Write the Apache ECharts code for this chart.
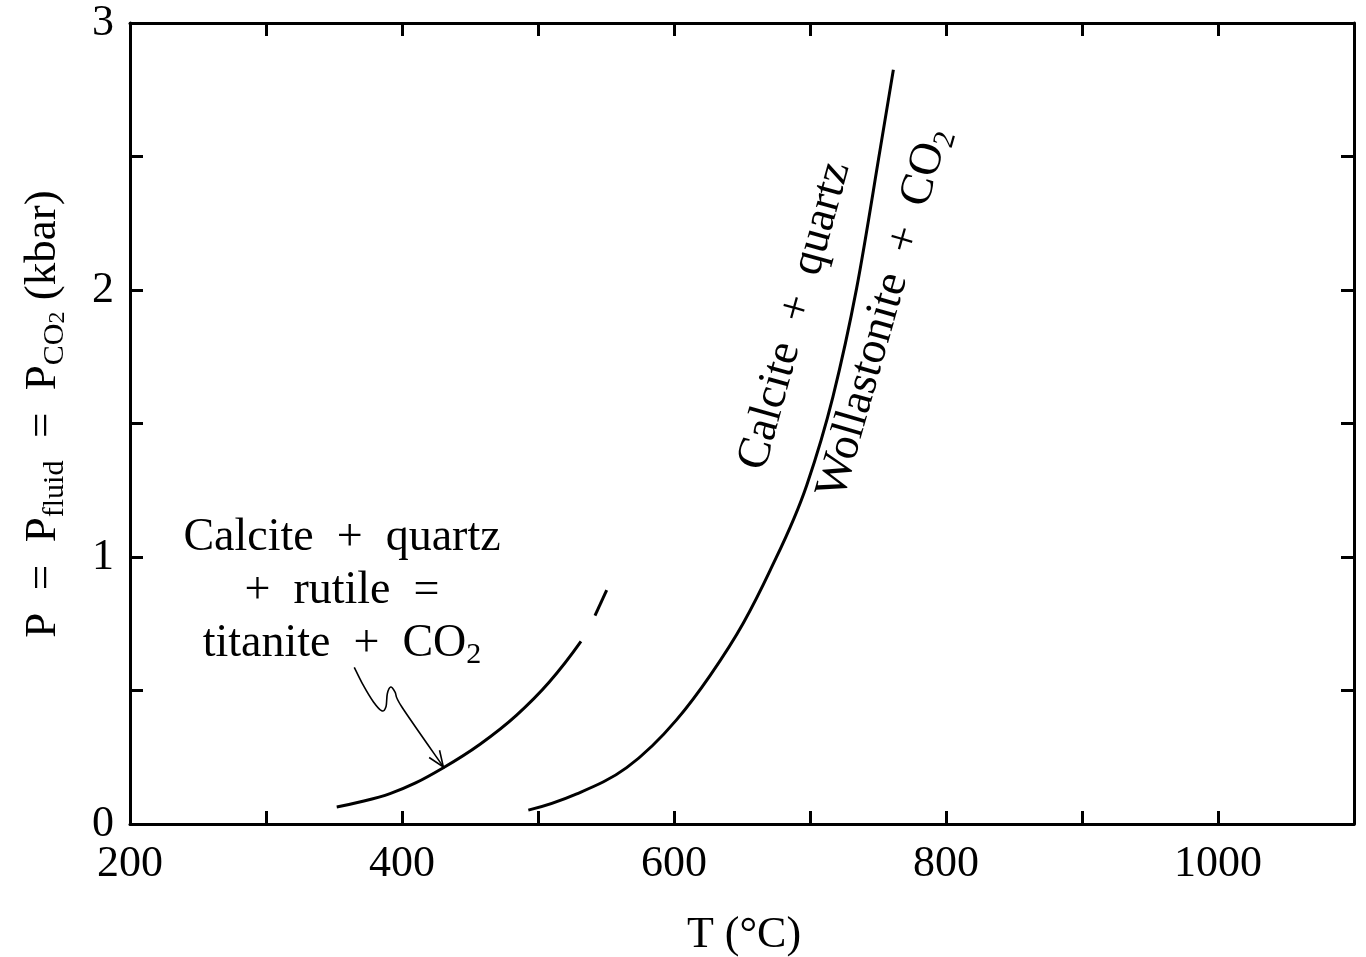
<!DOCTYPE html>
<html>
<head>
<meta charset="utf-8">
<script src="https://cdn.jsdelivr.net/npm/echarts@6/dist/echarts.min.js"></script>
<style>
  html, body { margin: 0; padding: 0; background: #fff; }
  #chart { width: 1366px; height: 957px; }
</style>
</head>
<body>
<div id="chart"></div>
<script>
// Calcite + quartz = wollastonite + CO2 : temperature (°C) and pressure (kbar)
const wollT = [492.9, 528.5, 565.2, 602.0, 626.5, 651.0, 670.6, 697.6, 716.9, 734.3, 751.5, 761.3];
const wollP = [0.052, 0.113, 0.211, 0.391, 0.556, 0.753, 0.949, 1.269, 1.601, 2.007, 2.524, 2.825];

// Calcite + quartz + rutile = titanite + CO2 (main branch and short upper piece)
const titT = [352.0, 372.0, 391.2, 410.0, 430.1, 457.4, 484.3, 508.0, 531.6];
const titP = [0.064, 0.086, 0.114, 0.154, 0.210, 0.299, 0.408, 0.530, 0.684];
const titUpperT = [541.9, 550.5];
const titUpperP = [0.780, 0.876];

// Squiggly leader from the titanite label down to its curve (ends in an arrow)
const leaderT = [364.9, 371.6, 378.9, 385.1, 388.2, 389.2, 391.7, 394.9, 399.8, 430.4];
const leaderP = [0.587, 0.519, 0.458, 0.424, 0.439, 0.488, 0.513, 0.494, 0.439, 0.214];

// Labelled tick values
const xTickLabels = [200, 400, 600, 800, 1000];
const yTickLabels = [0, 1, 2, 3];

const SERIF = "'Liberation Serif', 'Times New Roman', serif";
const EN = '\u2002';
const zip = (a, b) => a.map((v, i) => [v, b[i]]);

// rich-text styles: main text, subscript, second-level subscript
const titleRich = {
  m:  { fontSize: 45, fontFamily: SERIF, color: '#000', lineHeight: 54 },
  s:  { fontSize: 30, fontFamily: SERIF, color: '#000', lineHeight: 28, verticalAlign: 'bottom' },
  ss: { fontSize: 24, fontFamily: SERIF, color: '#000', lineHeight: 10, verticalAlign: 'bottom' }
};
const labelRich = {
  m:  { fontSize: 46, fontFamily: SERIF, color: '#000', lineHeight: 53 },
  s:  { fontSize: 30, fontFamily: SERIF, color: '#000', lineHeight: 28, verticalAlign: 'bottom' }
};

const axisLineStyle = { color: '#000', width: 3 };
const tickStyle = { color: '#000', width: 3 };

// Smooth path for a curve whose pixel x increases along the points:
// cubic Hermite in x with three-point tangents, written as Bézier segments.
function hermitePath(pts) {
  const n = pts.length;
  let d = 'M' + pts[0][0] + ' ' + pts[0][1];
  if (n < 3) {
    for (let i = 1; i < n; i++) d += ' L' + pts[i][0] + ' ' + pts[i][1];
    return d;
  }
  const h = [], s = [], m = [];
  for (let i = 0; i < n - 1; i++) {
    h.push(pts[i + 1][0] - pts[i][0]);
    s.push((pts[i + 1][1] - pts[i][1]) / h[i]);
  }
  m[0] = ((2 * h[0] + h[1]) * s[0] - h[0] * s[1]) / (h[0] + h[1]);
  for (let i = 1; i < n - 1; i++) {
    m[i] = (h[i] * s[i - 1] + h[i - 1] * s[i]) / (h[i - 1] + h[i]);
  }
  const k = n - 2;
  m[n - 1] = ((2 * h[k] + h[k - 1]) * s[k] - h[k] * s[k - 1]) / (h[k] + h[k - 1]);
  for (let i = 0; i < n - 1; i++) {
    const dx = h[i] / 3;
    d += ' C' + (pts[i][0] + dx) + ' ' + (pts[i][1] + m[i] * dx) + ' ' +
         (pts[i + 1][0] - dx) + ' ' + (pts[i + 1][1] - m[i + 1] * dx) + ' ' +
         pts[i + 1][0] + ' ' + pts[i + 1][1];
  }
  return d;
}

// Smooth path through arbitrary pixel points (Catmull-Rom as cubic Béziers)
function splinePath(pts) {
  let d = 'M' + pts[0][0] + ' ' + pts[0][1];
  for (let i = 0; i < pts.length - 1; i++) {
    const p0 = pts[i - 1] || pts[i];
    const p1 = pts[i];
    const p2 = pts[i + 1];
    const p3 = pts[i + 2] || pts[i + 1];
    const c1x = p1[0] + (p2[0] - p0[0]) / 6, c1y = p1[1] + (p2[1] - p0[1]) / 6;
    const c2x = p2[0] - (p3[0] - p1[0]) / 6, c2y = p2[1] - (p3[1] - p1[1]) / 6;
    d += ' C' + c1x + ' ' + c1y + ' ' + c2x + ' ' + c2y + ' ' + p2[0] + ' ' + p2[1];
  }
  return d;
}

// A custom series that draws its whole data set as one smooth stroked curve
function curveSeries(name, T, P, width, pathFn, withArrow) {
  return {
    name: name, type: 'custom', xAxisIndex: 0, yAxisIndex: 0,
    data: zip(T, P), silent: true, clip: false,
    renderItem: (params, api) => {
      if (params.dataIndex !== 0) return null;
      const pts = T.map((t, i) => api.coord([t, P[i]]));
      const children = [{
        type: 'path', shape: { pathData: pathFn(pts) },
        style: { stroke: '#000', lineWidth: width, fill: 'none', lineCap: 'butt', lineJoin: 'round' }
      }];
      if (withArrow) {
        const tip = pts[pts.length - 1];
        const prev = pts[pts.length - 2];
        const ang = Math.atan2(tip[1] - prev[1], tip[0] - prev[0]);
        const L = 17, a = 0.38;
        const h1 = [tip[0] - L * Math.cos(ang - a), tip[1] - L * Math.sin(ang - a)];
        const h2 = [tip[0] - L * Math.cos(ang + a), tip[1] - L * Math.sin(ang + a)];
        children.push({
          type: 'polyline', shape: { points: [h1, tip, h2] },
          style: { stroke: '#000', lineWidth: width, fill: null }
        });
      }
      return { type: 'group', children: children };
    }
  };
}

const chart = echarts.init(document.getElementById('chart'), null, { renderer: 'canvas' });

chart.setOption({
  backgroundColor: '#fff',
  animation: false,
  grid: { left: 130, right: 12, top: 23, bottom: 133, containLabel: false },
  xAxis: [
    {
      type: 'value', min: 200, max: 1100, interval: 100, position: 'bottom',
      axisLine: { onZero: false, lineStyle: axisLineStyle },
      axisTick: { inside: true, length: 13, lineStyle: tickStyle },
      axisLabel: {
        formatter: v => (xTickLabels.includes(v) ? String(v) : ''),
        fontSize: 44, fontFamily: SERIF, color: '#000', margin: 18,
        showMinLabel: true, showMaxLabel: true
      },
      splitLine: { show: false }
    },
    {
      type: 'value', min: 200, max: 1100, interval: 100, position: 'top',
      axisLine: { onZero: false, lineStyle: axisLineStyle },
      axisTick: { inside: true, length: 13, lineStyle: tickStyle },
      axisLabel: { show: false },
      splitLine: { show: false }
    }
  ],
  yAxis: [
    {
      type: 'value', min: 0, max: 3, interval: 0.5, position: 'left',
      axisLine: { onZero: false, lineStyle: axisLineStyle },
      axisTick: { inside: true, length: 13, lineStyle: tickStyle },
      axisLabel: {
        formatter: v => (yTickLabels.includes(v) ? String(v) : ''),
        fontSize: 44, fontFamily: SERIF, color: '#000', margin: 16,
        showMinLabel: true, showMaxLabel: true
      },
      splitLine: { show: false }
    },
    {
      type: 'value', min: 0, max: 3, interval: 0.5, position: 'right',
      axisLine: { onZero: false, lineStyle: axisLineStyle },
      axisTick: { inside: true, length: 13, lineStyle: tickStyle },
      axisLabel: { show: false },
      splitLine: { show: false }
    }
  ],
  series: [
    curveSeries('wollastonite', wollT, wollP, 3, hermitePath, false),
    curveSeries('titanite', titT, titP, 3, hermitePath, false),
    curveSeries('titanite upper', titUpperT, titUpperP, 3, hermitePath, false),
    curveSeries('leader', leaderT, leaderP, 1.6, splinePath, true)
  ],
  graphic: [
    // y-axis title
    {
      type: 'text', x: 43, y: 414, rotation: Math.PI / 2, silent: true,
      style: {
        text: '{m|P' + EN + '=' + EN + 'P}{s|fluid}{m|' + EN + '=' + EN + 'P}{s|CO}{ss|2}{m| (kbar)}',
        rich: titleRich, align: 'center', verticalAlign: 'middle'
      }
    },
    // x-axis title
    {
      type: 'text', x: 744, y: 935, silent: true,
      style: {
        text: 'T (°C)', fontSize: 44, fontFamily: SERIF, fill: '#000',
        align: 'center', verticalAlign: 'middle'
      }
    },
    // titanite reaction label
    {
      type: 'text', x: 342, y: 591, silent: true,
      style: {
        text: '{m|Calcite' + EN + '+' + EN + 'quartz}\n{m|+' + EN + 'rutile' + EN + '=}\n{m|titanite' + EN + '+' + EN + 'CO}{s|2}',
        rich: labelRich, align: 'center', verticalAlign: 'middle'
      }
    },
    // wollastonite reaction labels along the curve
    {
      type: 'text', x: 795, y: 316, rotation: 74.5 * Math.PI / 180, silent: true,
      style: {
        text: '{m|Calcite' + EN + '+' + EN + 'quartz}',
        rich: labelRich, align: 'center', verticalAlign: 'middle'
      }
    },
    {
      type: 'text', x: 884, y: 313, rotation: 74 * Math.PI / 180, silent: true,
      style: {
        text: '{m|Wollastonite' + EN + '+' + EN + 'CO}{s|2}',
        rich: labelRich, align: 'center', verticalAlign: 'middle'
      }
    }
  ]
});
</script>
</body>
</html>
